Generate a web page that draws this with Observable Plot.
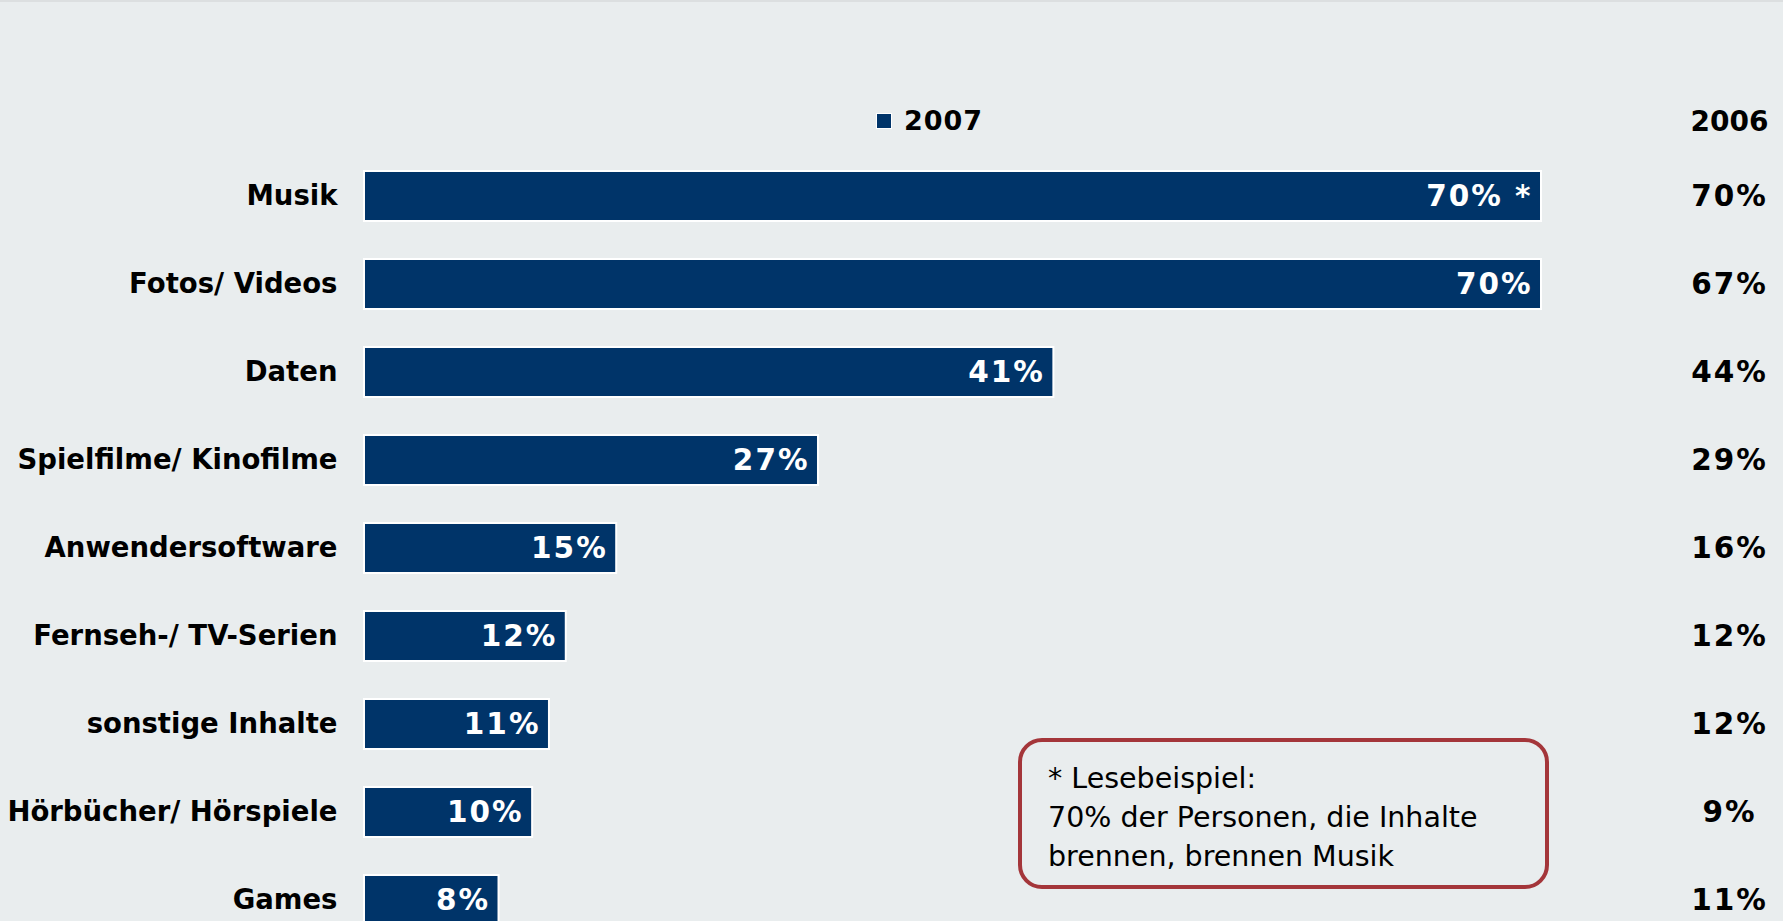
<!DOCTYPE html>
<html><head><meta charset="utf-8">
<script src="https://cdn.jsdelivr.net/npm/d3@7"></script>
<script src="https://cdn.jsdelivr.net/npm/@observablehq/plot@0.6"></script>
<style>
html,body{margin:0;padding:0;background:#e9edee;overflow:hidden;width:1783px;height:921px;}
#wrap{position:relative;width:1783px;height:921px;border-top:2px solid #dcdfe0;box-sizing:border-box;}
#chart{position:absolute;left:0;top:-2px;}
#legend{position:absolute;left:876px;top:103px;font:bold 27px "DejaVu Sans",sans-serif;color:#000;display:flex;align-items:center;letter-spacing:1px;}
#legend .sw{width:14px;height:14px;background:#003469;border:1px solid #fff;margin-right:12px;}
#note{position:absolute;left:1018px;top:736px;width:531px;height:151px;box-sizing:border-box;border:4px solid #a4363a;border-radius:24px;padding:17px 0 0 26px;font:28.5px "DejaVu Sans",sans-serif;line-height:39px;color:#000;white-space:nowrap;}
</style>
</head><body>
<div id="wrap">
  <div id="chart"></div>
  <div id="legend"><div class="sw"></div><span id="legtext"></span></div>
  <div id="note"></div>
</div>
<script>
const categories = ["Musik","Fotos/ Videos","Daten","Spielfilme/ Kinofilme","Anwendersoftware","Fernseh-/ TV-Serien","sonstige Inhalte","Hörbücher/ Hörspiele","Games"];
const values2007 = [70,70,41,27,15,12,11,10,8];
const values2006 = [70,67,44,29,16,12,12,9,11];
const markers2007 = [" *","","","","","","","",""];
const seriesName = "2007";
const compareName = "2006";
const noteLines = ["* Lesebeispiel:","70% der Personen, die Inhalte","brennen, brennen Musik"];

const data = categories.map((c,i)=>({cat:c, v07:values2007[i], v06:values2006[i], m:markers2007[i]}));

document.getElementById("legtext").textContent = seriesName;
document.getElementById("note").innerHTML = noteLines.map(s=>`<div>${s}</div>`).join("");

const chart = Plot.plot({
  width: 1783,
  height: 963,
  marginLeft: 364,
  marginRight: 242,
  marginTop: 133,
  marginBottom: 0,
  style: {background:"transparent", fontFamily:"DejaVu Sans, sans-serif", fontSize:"27px", fontWeight:"bold", color:"#000"},
  x: {domain:[0,70], axis:null},
  y: {domain: categories, paddingInner:0.43, paddingOuter:0.43, align:0.5, label:null},
  marks: [
    Plot.axisY({tickSize:0, tickPadding:27, fontSize:27.5, fontWeight:"bold", fill:"#000", label:null}),
    Plot.barX(data, {y:"cat", x:"v07", fill:"#003469", stroke:"#fff", strokeWidth:2}),
    Plot.text(data, {y:"cat", x:"v07", text:d=>d.v07+"%"+d.m, textAnchor:"end", dx:-9, fill:"#fff", fontSize:29.5, fontWeight:"bold"}),
    Plot.text(data, {y:"cat", frameAnchor:"right", dx:188, text:d=>d.v06+"%", textAnchor:"middle", fill:"#000", fontSize:29.5, fontWeight:"bold"}),
    Plot.text([compareName], {frameAnchor:"top-right", dx:188, dy:-22, text:d=>d, textAnchor:"middle", fill:"#000", fontSize:28, fontWeight:"bold"})
  ]
});
const pctTexts = new Set([...values2007.map((v,i)=>v+"%"+markers2007[i]), ...values2006.map(v=>v+"%")]);
chart.querySelectorAll("text").forEach(t=>{
  if (pctTexts.has(t.textContent)) { t.setAttribute("letter-spacing","2"); t.style.letterSpacing="2px"; }
});
document.getElementById("chart").appendChild(chart);
</script>
</body></html>
